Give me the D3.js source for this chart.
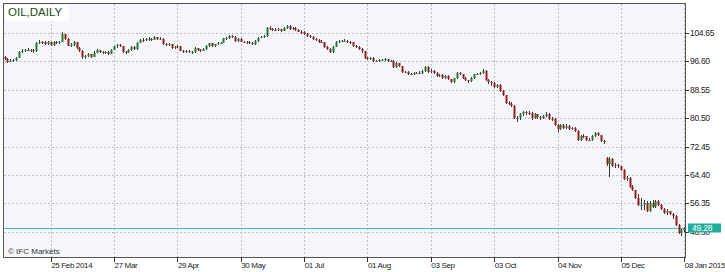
<!DOCTYPE html>
<html><head><meta charset="utf-8">
<script src="https://cdn.jsdelivr.net/npm/d3@7"></script>
<style>html,body{margin:0;padding:0;background:#fff;} svg{display:block;font-family:"Liberation Sans",Arial,sans-serif;}</style>
</head><body><svg id="c" width="725" height="272"></svg>
<script>
const chartTitle = "OIL,DAILY";
const copyright = "\u00A9 IFC Markets";
const firstDay = "2014-01-31", lastDay = "2015-01-08";
const holidays = ["2014-02-17","2014-04-18","2014-05-26","2014-07-04","2014-09-01","2014-11-27","2014-12-25","2015-01-01"];
const tickDates = ["2014-02-25","2014-03-27","2014-04-29","2014-05-30","2014-07-01","2014-08-01","2014-09-03","2014-10-03","2014-11-04","2014-12-05","2015-01-08"];
const tickLabels = ["25 Feb 2014","27 Mar","29 Apr","30 May","01 Jul","01 Aug","03 Sep","03 Oct","04 Nov","05 Dec","08 Jan 2015"];
const priceTicks = [104.65, 96.60, 88.55, 80.50, 72.45, 64.40, 56.35, 48.30];
const lastPrice = 49.28;

// [open, high, low, close]
const jan14 = [[97.9,98.2,97.0,97.3]];
const feb14 = [[97.3,97.5,96.2,96.5],[96.5,97.2,96.3,96.8],[96.8,97.4,96.5,97.0],[97.0,97.9,96.8,97.6],[97.6,99.6,97.5,99.3],
 [99.3,100.0,99.0,99.6],[99.6,100.2,99.3,99.8],[99.8,100.3,99.4,99.9],[99.9,100.2,99.3,99.7],[99.7,100.0,99.0,99.4],
 [99.4,102.1,99.3,101.8],[101.8,102.6,101.5,102.2],[102.2,102.5,101.6,102.0],[102.0,102.3,101.2,101.6],
 [101.6,102.3,101.3,102.0],[102.0,102.2,101.0,101.3],[101.3,102.3,101.1,102.0],[102.0,102.4,101.5,101.8],[101.8,102.5,101.6,102.1]];
const mar14 = [[102.1,104.8,102.0,104.3],[104.3,104.5,102.6,102.9],[102.9,103.2,100.9,101.1],[101.1,101.8,100.6,101.2],[101.2,102.3,100.9,102.0],
 [102.0,102.1,100.2,100.5],[100.5,100.8,99.2,99.6],[99.6,99.8,97.4,97.7],[97.7,98.4,97.3,98.0],[98.0,98.9,97.7,98.6],
 [98.6,98.8,97.6,97.9],[97.9,99.4,97.7,99.1],[99.1,100.0,98.9,99.7],[99.7,99.9,99.0,99.3],[99.3,99.5,98.6,98.9],
 [98.9,99.5,98.7,99.2],[99.2,99.4,98.5,98.8],[98.8,100.1,98.6,99.9],[99.9,101.1,99.7,100.9],[100.9,101.5,100.5,101.2],[101.2,101.6,100.7,101.0]];
const apr14 = [[101.0,101.1,99.0,99.3],[99.3,99.6,98.8,99.2],[99.2,100.1,99.0,99.8],[99.8,100.9,99.6,100.6],
 [100.6,100.9,99.8,100.1],[100.1,102.1,99.9,101.9],[101.9,103.0,101.7,102.8],[102.8,103.1,102.2,102.6],[102.6,103.2,102.3,102.9],
 [102.9,103.4,102.5,103.0],[103.0,103.3,102.4,102.8],[102.8,103.7,102.6,103.4],[103.4,103.6,102.7,103.0],
 [103.0,103.5,102.6,103.0],[103.0,103.1,101.3,101.6],[101.6,101.9,100.9,101.2],[101.2,101.8,100.9,101.4],[101.4,101.6,100.1,100.4],
 [100.4,100.9,100.1,100.6],[100.6,101.2,100.3,100.9],[100.9,101.0,99.4,99.6]];
const may14 = [[99.6,99.9,98.9,99.2],[99.2,99.8,99.0,99.5],
 [99.5,99.7,98.9,99.2],[99.2,99.6,98.8,99.3],[99.3,100.6,99.1,100.3],[100.3,100.5,99.6,99.9],[99.9,100.1,99.3,99.6],
 [99.6,100.4,99.4,100.1],[100.1,101.3,99.9,101.0],[101.0,101.9,100.8,101.7],[101.7,101.8,100.7,101.0],[101.0,101.6,100.8,101.4],
 [101.4,102.1,101.2,101.9],[101.9,102.2,101.5,101.9],[101.9,103.3,101.8,103.1],[103.1,103.5,102.8,103.2],[103.2,104.0,103.0,103.8],
 [103.8,104.1,103.3,103.6],[103.6,103.7,102.0,102.3],[102.3,103.2,102.1,103.0],[103.0,103.1,102.0,102.2]];
const jun14 = [[102.2,102.5,101.7,102.0],[102.0,102.4,101.6,102.1],[102.1,102.4,101.5,101.8],[101.8,102.1,101.2,101.5],[101.5,102.6,101.3,102.4],
 [102.4,103.5,102.2,103.3],[103.3,103.9,103.1,103.6],[103.6,104.0,103.2,103.7],[103.7,106.3,103.6,106.0],[106.0,106.5,105.4,105.8],
 [105.8,106.2,105.3,105.6],[105.6,106.0,105.1,105.4],[105.4,106.1,105.2,105.7],[105.7,105.9,105.0,105.3],[105.3,106.4,105.1,106.2],
 [106.2,107.0,105.9,106.6],[106.6,106.8,105.6,105.8],[105.8,106.4,105.5,106.2],[106.2,106.3,105.2,105.5],[105.5,105.8,104.8,105.0],
 [105.0,105.4,104.5,104.8]];
const jul14 = [[104.8,105.1,104.1,104.4],[104.4,104.6,103.6,103.9],[103.9,104.1,103.3,103.6],
 [103.6,103.8,102.7,103.0],[103.0,103.3,102.5,102.8],[102.8,103.0,101.9,102.2],[102.2,102.6,101.7,102.0],[102.0,102.1,100.3,100.6],
 [100.6,100.9,99.9,100.2],[100.2,100.4,98.9,99.3],[99.3,101.0,99.1,100.8],[100.8,102.4,100.6,102.2],[102.2,102.7,101.8,102.3],
 [102.3,102.8,102.0,102.4],[102.4,102.9,102.1,102.5],[102.5,102.7,101.8,102.2],[102.2,102.5,101.6,102.0],[102.0,102.1,100.8,101.0],
 [101.0,101.3,100.3,100.6],[100.6,100.9,99.9,100.2],[100.2,100.5,99.1,99.4],[99.4,99.6,97.3,97.6]];
const aug14 = [[97.6,97.9,97.0,97.3],
 [97.3,97.9,97.0,97.5],[97.5,97.7,96.5,96.8],[96.8,97.1,96.3,96.6],[96.6,97.2,96.4,96.9],[96.9,97.4,96.6,97.1],
 [97.1,97.6,96.8,97.2],[97.2,97.4,96.4,96.7],[96.7,97.1,96.4,96.8],[96.8,96.9,94.8,95.0],[95.0,96.3,94.8,96.0],
 [96.0,96.2,94.9,95.2],[95.2,95.4,93.2,93.5],[93.5,94.0,93.2,93.6],[93.6,93.8,92.8,93.1],[93.1,93.4,92.6,93.0],
 [93.0,93.6,92.8,93.2],[93.2,93.7,92.9,93.4],[93.4,93.8,93.0,93.3],[93.3,94.2,93.1,93.9],[93.9,95.4,93.7,95.1]];
const sep14 = [[95.1,95.3,93.2,93.5],[93.5,94.4,93.3,94.0],[94.0,94.2,93.0,93.3],[93.3,93.5,92.2,92.5],
 [92.5,93.0,92.2,92.7],[92.7,92.9,91.5,91.8],[91.8,92.7,91.5,92.4],[92.4,92.6,91.2,91.5],[91.5,91.7,90.5,90.8],
 [90.8,92.0,90.6,91.8],[91.8,93.6,91.6,93.3],[93.3,93.6,92.7,93.0],[93.0,93.1,91.6,91.9],[91.9,92.1,90.9,91.2],
 [91.2,91.4,90.6,91.0],[91.0,92.1,90.8,91.8],[91.8,93.1,91.6,92.9],[92.9,93.4,92.6,93.1],[93.1,93.7,92.8,93.4],
 [93.4,94.3,93.1,94.0],[94.0,94.1,91.0,91.3]];
const oct14 = [[91.3,91.6,90.3,90.8],[90.8,91.1,89.6,90.6],[90.6,90.8,89.1,89.4],
 [89.4,90.3,89.1,89.9],[89.9,90.1,88.0,88.3],[88.3,88.6,86.7,87.0],[87.0,87.2,84.5,84.8],[84.8,85.5,84.2,84.6],
 [84.6,85.0,83.6,84.0],[84.0,84.3,80.2,80.6],[80.6,81.2,79.4,80.4],[80.4,82.0,80.1,81.6],[81.6,82.6,81.2,82.2],
 [82.2,82.5,81.5,82.0],[82.0,82.4,81.5,81.9],[81.9,82.1,80.1,80.4],[80.4,81.9,80.2,81.6],[81.6,81.8,80.3,80.7],
 [80.7,81.0,80.0,80.6],[80.6,81.3,80.3,81.0],[81.0,82.1,80.8,81.8],[81.8,82.0,80.0,80.3],[80.3,80.7,79.8,80.2]];
const nov14 = [[80.2,80.4,78.3,78.6],[78.6,78.8,76.5,77.3],[77.3,78.9,77.1,78.6],[78.6,78.8,77.5,77.8],[77.8,78.7,77.4,78.4],
 [78.4,78.6,77.0,77.3],[77.3,78.0,77.0,77.7],[77.7,77.9,76.6,76.9],[76.9,77.1,73.9,74.2],[74.2,75.8,74.0,75.5],
 [75.5,76.0,75.0,75.3],[75.3,75.5,74.1,74.4],[74.4,74.9,73.9,74.3],[74.3,75.6,74.1,75.3],[75.3,76.6,75.1,76.3],
 [76.3,76.5,75.3,75.6],[75.6,75.8,73.7,74.0],[74.0,74.3,73.3,73.6],[69.3,69.6,67.0,67.4]];
const dec14 = [[67.4,69.4,63.8,68.8],[68.8,69.1,66.6,67.0],[67.0,67.9,66.5,67.3],[67.3,67.6,66.4,66.8],[66.8,67.0,65.5,65.8],
 [65.8,66.0,62.9,63.2],[63.2,64.2,62.8,63.6],[63.6,63.8,60.7,61.0],[61.0,61.4,59.7,60.0],[60.0,60.2,57.6,57.9],
 [57.9,59.0,55.6,55.9],[55.9,57.8,54.5,56.0],[56.0,57.4,54.4,56.5],[56.5,56.9,53.9,54.2],[54.2,56.9,54.0,56.5],
 [56.5,57.2,55.0,55.3],[55.3,57.4,55.1,57.0],[57.0,57.3,55.6,55.9],[55.9,56.2,54.5,54.8],
 [54.8,55.1,53.4,53.7],[53.7,54.6,53.1,54.1],[54.1,54.3,52.9,53.3]];
const jan15 = [[53.3,53.6,52.0,52.7],[52.7,52.9,49.8,50.1],[50.1,50.4,47.6,48.0],[48.0,49.2,47.0,48.7],[48.7,49.6,48.3,49.28]];

const fmt = d3.timeFormat("%Y-%m-%d");
const parse = d3.timeParse("%Y-%m-%d");
const dates = d3.timeDay.range(parse(firstDay), d3.timeDay.offset(parse(lastDay), 1))
  .filter(d => d.getDay() !== 0 && d.getDay() !== 6)
  .map(fmt).filter(s => !holidays.includes(s));
const ohlc = [].concat(jan14, feb14, mar14, apr14, may14, jun14, jul14, aug14, sep14, oct14, nov14, dec14, jan15);
const bars = ohlc.map((v, i) => ({date: dates[i], o: v[0], h: v[1], l: v[2], c: v[3]}));

const W = 725, H = 272;
const L = 4, R = 685, T = 4, B = 257;
const svg = d3.select("#c");

const x = d3.scalePoint().domain(dates).range([4.6, 684.3]);
const y = d3.scaleLinear().domain([41.12, 112.87]).range([B, T]);

// plot background
svg.append("rect").attr("x", L).attr("y", T).attr("width", R - L).attr("height", B - T).attr("fill", "#f5f6fb");

// grid
const grid = svg.append("g").attr("stroke", "#bdbdc4").attr("stroke-width", 1).attr("stroke-dasharray", "2,2");
grid.selectAll(".h").data(priceTicks).join("line")
  .attr("x1", L).attr("x2", R)
  .attr("y1", d => Math.round(y(d)) + 0.5).attr("y2", d => Math.round(y(d)) + 0.5);
grid.selectAll(".v").data(tickDates).join("line")
  .attr("x1", d => Math.round(x(d)) + 0.5).attr("x2", d => Math.round(x(d)) + 0.5)
  .attr("y1", T).attr("y2", B);

// title box
svg.append("rect").attr("x", L + 1).attr("y", T + 1).attr("width", 64).attr("height", 16).attr("fill", "#ffffff");
svg.append("text").attr("x", 8).attr("y", 16).attr("font-size", "11.5px").attr("fill", "#234a23").text(chartTitle);

// last price line
svg.append("line").attr("x1", L).attr("x2", R)
  .attr("y1", Math.round(y(lastPrice)) + 0.5).attr("y2", Math.round(y(lastPrice)) + 0.5)
  .attr("stroke", "#3cc3b2").attr("stroke-width", 1);

// candles
svg.append("clipPath").attr("id", "clip").append("rect").attr("x", L).attr("y", T).attr("width", R - L).attr("height", B - T);
const cg = svg.append("g").attr("clip-path", "url(#clip)");
const cand = cg.selectAll("g.c").data(bars).join("g");
cand.append("rect")
  .attr("x", d => Math.round(x(d.date)))
  .attr("width", 1)
  .attr("y", d => Math.round(y(d.h)))
  .attr("height", d => Math.max(1, Math.round(y(d.l)) - Math.round(y(d.h))))
  .attr("fill", "#3a3a3a");
cand.append("rect")
  .attr("x", d => Math.round(x(d.date)) - 0.5)
  .attr("width", 2)
  .attr("y", d => Math.round(y(Math.max(d.o, d.c))))
  .attr("height", d => Math.max(1, Math.round(y(Math.min(d.o, d.c))) - Math.round(y(Math.max(d.o, d.c)))))
  .attr("fill", d => d.c >= d.o ? "#1f7a2e" : "#9b1b1b");

// frame
svg.append("rect").attr("x", L - 0.5).attr("y", T - 0.5).attr("width", R - L + 1).attr("height", B - T + 1)
  .attr("fill", "none").attr("stroke", "#555").attr("stroke-width", 1);

// right axis
const ra = svg.append("g");
ra.selectAll("line").data(priceTicks).join("line")
  .attr("x1", R).attr("x2", R + 4)
  .attr("y1", d => Math.round(y(d)) + 0.5).attr("y2", d => Math.round(y(d)) + 0.5)
  .attr("stroke", "#333");
ra.selectAll("text").data(priceTicks).join("text")
  .attr("x", R + 5).attr("y", d => y(d)).attr("dy", "0.35em")
  .attr("font-size", "8.5px").attr("letter-spacing", "-0.3px").attr("fill", "#222")
  .text(d => d3.format(".2f")(d));

// bottom axis
const ba = svg.append("g");
ba.selectAll("line").data(tickDates).join("line")
  .attr("x1", d => Math.round(x(d)) + 0.5).attr("x2", d => Math.round(x(d)) + 0.5)
  .attr("y1", B).attr("y2", B + 5).attr("stroke", "#333");
ba.selectAll("text").data(tickDates).join("text")
  .attr("x", d => x(d) + 0.5).attr("y", 268)
  .attr("font-size", "8px").attr("letter-spacing", "-0.35px").attr("fill", "#222")
  .text((d, i) => tickLabels[i]);

// last price label
const ly = y(lastPrice);
svg.append("rect").attr("x", 688).attr("y", Math.round(ly) - 4.5).attr("width", 33).attr("height", 9).attr("fill", "#22ac9c");
svg.append("text").attr("x", 692).attr("y", ly).attr("dy", "0.35em")
  .attr("font-size", "8.5px").attr("letter-spacing", "-0.2px").attr("fill", "#ffffff").text(d3.format(".2f")(lastPrice));

// copyright
svg.append("text").attr("x", 8).attr("y", 254).attr("font-size", "8px").attr("fill", "#333").text(copyright);
</script></body></html>
